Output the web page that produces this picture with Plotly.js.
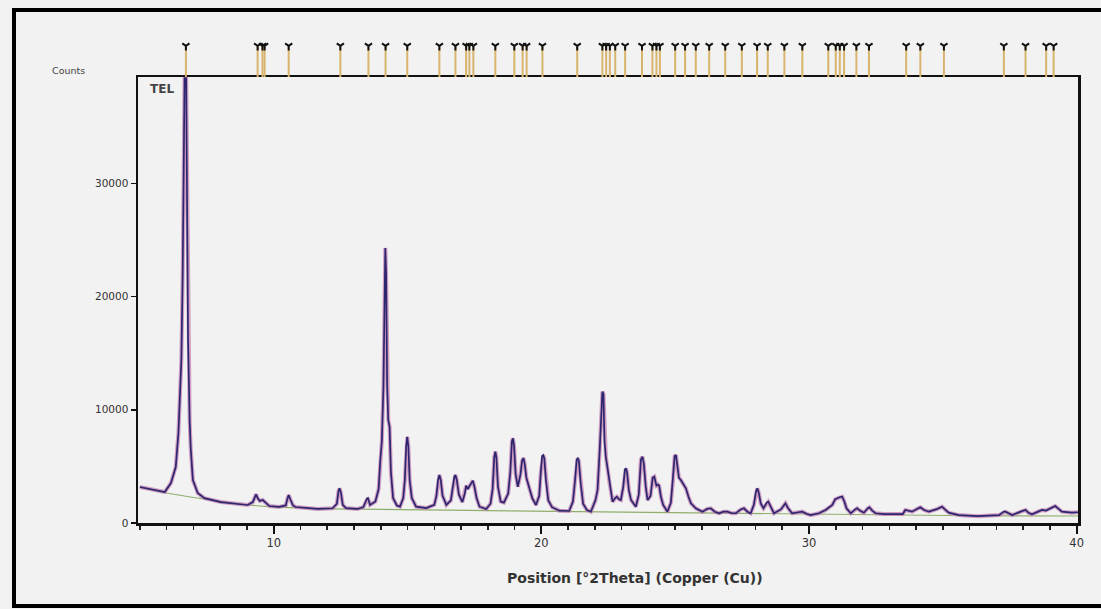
<!DOCTYPE html>
<html>
<head>
<meta charset="utf-8">
<script src="https://cdn.plot.ly/plotly-3.0.1.min.js"></script>
<style>
html,body{margin:0;padding:0;background:#f2f2f2;}
#chart{width:1101px;height:609px;}
</style>
</head>
<body>
<div id="chart"></div>
<script>
const twoTheta = [
  5.00,5.50,5.93,6.16,6.34,6.44,6.50,6.55,6.60,6.64,
  6.67,6.73,6.76,6.80,6.86,6.90,6.98,7.16,7.41,8.02,
  8.66,9.03,9.22,9.30,9.34,9.40,9.48,9.59,9.70,9.84,
  10.20,10.45,10.52,10.56,10.62,10.72,10.82,11.64,12.20,12.36,
  12.42,12.46,12.51,12.58,12.70,13.13,13.35,13.47,13.52,13.60,
  13.80,13.92,13.98,14.04,14.10,14.14,14.17,14.20,14.24,14.28,
  14.33,14.38,14.46,14.60,14.72,14.84,14.90,14.95,14.99,15.03,
  15.08,15.16,15.32,15.70,16.00,16.08,16.14,16.19,16.24,16.31,
  16.45,16.62,16.70,16.75,16.79,16.84,16.92,17.05,17.14,17.19,
  17.25,17.30,17.40,17.44,17.50,17.58,17.69,17.94,18.10,18.18,
  18.24,18.28,18.32,18.38,18.48,18.60,18.76,18.84,18.90,18.94,
  18.98,19.04,19.12,19.22,19.28,19.33,19.38,19.44,19.55,19.66,
  19.80,19.92,19.98,20.03,20.07,20.11,20.17,20.26,20.40,20.67,
  21.04,21.18,21.26,21.32,21.36,21.40,21.47,21.56,21.70,21.85,
  22.02,22.10,22.18,22.24,22.28,22.32,22.36,22.41,22.54,22.66,
  22.76,22.82,22.90,22.97,23.06,23.12,23.16,23.20,23.27,23.35,
  23.53,23.64,23.72,23.78,23.83,23.90,23.97,24.08,24.16,24.22,
  24.30,24.36,24.40,24.47,24.55,24.71,24.84,24.92,24.98,25.03,
  25.08,25.14,25.21,25.30,25.40,25.50,25.59,25.77,26.02,26.20,
  26.33,26.48,26.64,26.80,26.95,27.12,27.27,27.45,27.57,27.70,
  27.82,27.94,28.02,28.07,28.12,28.20,28.30,28.42,28.48,28.56,
  28.69,28.95,29.08,29.12,29.22,29.37,29.60,29.75,29.92,30.06,
  30.37,30.62,30.87,30.98,31.06,31.16,31.24,31.32,31.40,31.56,
  31.72,31.80,31.90,32.05,32.20,32.26,32.36,32.49,32.80,33.50,
  33.60,33.72,33.85,34.05,34.16,34.30,34.48,34.80,34.97,35.10,
  35.22,35.60,36.30,37.10,37.28,37.34,37.59,37.95,38.09,38.20,
  38.33,38.60,38.71,38.85,38.96,39.10,39.20,39.30,39.45,39.82,40.05];
const counts = [
  3180,2950,2740,3530,4950,7950,11000,14400,22000,30000,
  39300,39300,30000,16200,9000,6600,3800,2650,2200,1850,
  1680,1590,1850,2400,2530,2200,1950,2030,1800,1500,
  1420,1550,2200,2470,2100,1550,1410,1240,1300,1700,
  2800,3060,2700,1600,1320,1240,1400,2100,2200,1600,
  1900,3000,5500,7200,12000,22000,24300,22000,12000,9100,
  8500,4500,2200,1550,1450,2200,3800,6800,7620,6800,
  3800,2200,1440,1320,1600,2400,3800,4240,3800,2400,
  1600,2000,3200,4100,4240,3800,2500,1850,2600,3300,
  3000,3200,3700,3740,3200,2200,1440,1240,1700,3000,
  5800,6300,5800,3200,1900,1800,2600,4500,7200,7480,
  6800,4300,3200,4300,5500,5740,5200,4000,3090,2200,
  1590,2400,4500,5900,6000,5700,3800,2000,1400,1090,
  1060,1900,3800,5600,5710,5500,3500,1700,1150,1000,
  2000,2910,6450,9000,11600,11400,7200,5850,3650,1880,
  2200,2320,2100,2030,3200,4700,4830,4500,2900,2030,
  1440,2500,5600,5850,5200,3200,2030,2400,4000,4090,
  3300,3400,3300,2300,1600,1000,1800,3800,5900,6000,
  5200,4000,3800,3400,3060,2300,1740,1300,1000,1250,
  1300,1000,860,1000,1000,860,860,1200,1300,1000,
  860,1600,2800,3060,2700,1700,1300,1800,1880,1500,
  860,1200,1700,1740,1300,860,950,1000,800,700,
  860,1150,1590,2100,2180,2300,2320,1900,1300,860,
  1200,1300,1100,910,1300,1390,1100,860,790,790,
  1150,1050,1000,1250,1390,1150,1000,1250,1440,1150,
  910,700,600,700,1000,1000,700,1050,1150,900,
  770,1050,1150,1100,1210,1400,1500,1300,1000,910,950];

// Background line
const bgTheta = [5,6,7,8,9,10,11,12,14,16,18,20,22,24,26,28,30,33,36,40.05];
const bgCounts = [3150,2650,2250,1900,1600,1400,1300,1250,1200,1150,1100,1020,960,900,850,800,740,700,640,620];

// Reference peak positions (top stick pattern)
const peakPositions = [6.72,9.40,9.58,9.66,10.56,12.49,13.54,14.18,14.99,16.19,16.79,17.19,17.31,17.46,18.28,18.99,19.30,19.45,20.04,21.34,22.28,22.42,22.56,22.76,23.13,23.76,24.15,24.30,24.43,25.00,25.37,25.77,26.27,26.87,27.49,28.06,28.46,29.08,29.75,30.72,31.00,31.15,31.31,31.77,32.24,33.63,34.16,35.04,37.28,38.09,38.86,39.14];

const xTitle = 'Position [°2Theta] (Copper (Cu))';
const yLabel = 'Counts';
const sampleName = 'TEL';

// build stick segments from peak positions
const stickX = [], stickY = [];
peakPositions.forEach(p => { stickX.push(p, p, null); stickY.push(0, 0.8, null); });

const font = 'DejaVu Sans, Verdana, sans-serif';

const traces = [
  {x: bgTheta, y: bgCounts, type:'scatter', mode:'lines', line:{color:'#8fae6a', width:1.2}, hoverinfo:'skip', showlegend:false},
  {x: twoTheta, y: counts, type:'scatter', mode:'lines', line:{color:'#c27aae', width:4}, opacity:0.7, showlegend:false},
  {x: twoTheta, y: counts, type:'scatter', mode:'lines', line:{color:'#2c2670', width:1.7}, showlegend:false},
  {x: stickX, y: stickY, xaxis:'x', yaxis:'y2', type:'scatter', mode:'lines', line:{color:'#d8b46c', width:2}, hoverinfo:'skip', showlegend:false},
  {x: peakPositions, y: peakPositions.map(() => 0.8), xaxis:'x', yaxis:'y2', type:'scatter', mode:'markers',
   marker:{symbol:'y-down-open', size:6, color:'#111', line:{color:'#111', width:2}}, showlegend:false}
];

const yDomTop = 446/485;
const layout = {
  width:1101, height:609,
  margin:{l:138, r:23, t:38, b:86},
  paper_bgcolor:'#f2f2f2', plot_bgcolor:'#f2f2f2',
  showlegend:false,
  xaxis:{range:[4.93,40.05], tick0:0, dtick:10, ticks:'outside', ticklen:8, tickwidth:2, tickcolor:'#111',
         minor:{dtick:1, ticks:'outside', ticklen:4, tickwidth:1.5, tickcolor:'#222'},
         showline:true, linewidth:2.5, linecolor:'#111', mirror:true, showgrid:false, zeroline:false,
         tickfont:{family:font, size:11.5, color:'#333'}, anchor:'y'},
  yaxis:{domain:[0, yDomTop], range:[0,39400], dtick:10000, tickformat:'d', ticks:'outside', ticklen:5, tickwidth:1.5, tickcolor:'#111',
         showline:true, linewidth:2.5, linecolor:'#111', mirror:true, showgrid:false, zeroline:false,
         tickfont:{family:font, size:10.5, color:'#333'}},
  yaxis2:{domain:[yDomTop, 1], range:[0,1], visible:false, anchor:'x', fixedrange:true},
  annotations:[
    {text: sampleName, xref:'paper', yref:'paper', x:0.011, y:(523-80)/485, xanchor:'left', yanchor:'top', showarrow:false,
     font:{family:font, size:12, color:'#444', weight:'bold'}},
    {text: yLabel, xref:'paper', yref:'paper', x:(68-138)/940, y:(523-70)/485, xanchor:'center', yanchor:'middle', showarrow:false,
     font:{family:font, size:9.5, color:'#444'}},
    {text: xTitle, xref:'paper', yref:'paper', x:(635-138)/940, y:(523-578)/485, xanchor:'center', yanchor:'middle', showarrow:false,
     font:{family:font, size:14, color:'#333', weight:'bold'}}
  ],
  shapes:[
    {type:'rect', xref:'paper', yref:'paper', x0:(14-138)/940, x1:(1115-138)/940, y0:(523-606)/485, y1:(523-10)/485,
     line:{color:'#000', width:4}, fillcolor:'rgba(0,0,0,0)', layer:'above'}
  ]
};

Plotly.newPlot('chart', traces, layout, {staticPlot:true, displayModeBar:false});
</script>
</body>
</html>
